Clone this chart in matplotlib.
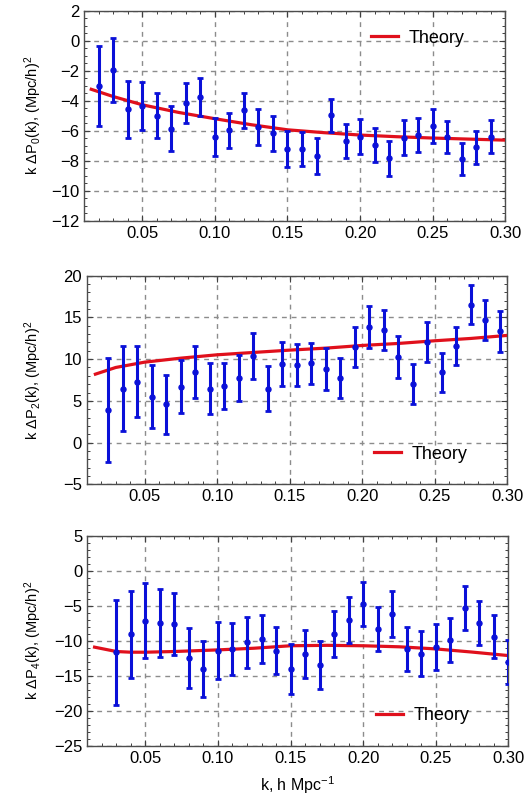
import matplotlib
matplotlib.use('Agg')
from matplotlib import pyplot as plt
from matplotlib.ticker import MultipleLocator
import numpy as np

# Data
k0 = [0.02, 0.03, 0.04, 0.05, 0.06, 0.07, 0.08, 0.09, 0.10, 0.11, 0.12, 0.13, 0.14, 0.15,
      0.16, 0.17, 0.18, 0.19, 0.20, 0.21, 0.22, 0.23, 0.24, 0.25, 0.26, 0.27, 0.28, 0.29]
p0 = [-3.0, -1.96, -4.56, -4.36, -5.0, -5.87, -4.13, -3.73, -6.42, -5.96, -4.64, -5.73, -6.18, -7.24,
      -7.24, -7.69, -4.96, -6.67, -6.4, -6.96, -7.84, -6.47, -6.29, -5.69, -6.44, -7.91, -7.11, -6.4]
e0 = [2.67, 2.16, 1.9, 1.61, 1.49, 1.49, 1.33, 1.26, 1.27, 1.17, 1.17, 1.2, 1.17, 1.19,
      1.13, 1.18, 1.1, 1.13, 1.15, 1.13, 1.16, 1.16, 1.15, 1.11, 1.08, 1.07, 1.09, 1.1]

k2 = [0.025, 0.035, 0.045, 0.055, 0.065, 0.075, 0.085, 0.095, 0.105, 0.115, 0.125, 0.135, 0.145, 0.155,
      0.165, 0.175, 0.185, 0.195, 0.205, 0.215, 0.225, 0.235, 0.245, 0.255, 0.265, 0.275, 0.285, 0.295]
p2 = [3.92, 6.48, 7.32, 5.52, 4.6, 6.72, 8.44, 6.48, 6.8, 7.72, 10.4, 6.48, 9.4, 9.3,
      9.48, 8.8, 7.72, 11.48, 13.8, 13.48, 10.24, 7.0, 12.04, 8.4, 11.6, 16.52, 14.72, 13.32]
e2 = [6.2, 5.1, 4.3, 3.8, 3.52, 3.22, 3.14, 3.0, 2.72, 2.76, 2.74, 2.66, 2.6, 2.5,
      2.5, 2.48, 2.42, 2.42, 2.52, 2.4, 2.48, 2.4, 2.4, 2.34, 2.3, 2.32, 2.38, 2.42]

k4 = [0.03, 0.04, 0.05, 0.06, 0.07, 0.08, 0.09, 0.10, 0.11, 0.12, 0.13, 0.14, 0.15, 0.16,
      0.17, 0.18, 0.19, 0.20, 0.21, 0.22, 0.23, 0.24, 0.25, 0.26, 0.27, 0.28, 0.29, 0.30]
p4 = [-11.62, -9.05, -7.1, -7.48, -7.62, -12.48, -14.0, -11.43, -11.14, -10.19, -9.76, -11.38, -14.0, -11.9,
      -13.43, -9.05, -7.0, -4.71, -8.29, -6.19, -11.19, -11.86, -10.9, -9.86, -5.33, -7.43, -9.38, -13.0]
e4 = [7.5, 6.19, 5.4, 4.84, 4.4, 4.29, 3.98, 4.05, 3.74, 3.62, 3.45, 3.4, 3.6, 3.38,
      3.38, 3.26, 3.27, 3.12, 3.19, 3.24, 3.17, 3.22, 3.29, 3.14, 3.17, 3.1, 3.1, 3.17]

# Theory curves
tk0 = [0.015, 0.03, 0.05, 0.075, 0.10, 0.125, 0.15, 0.175, 0.20, 0.225, 0.25, 0.275, 0.30]
tv0 = [-3.24, -3.72, -4.27, -4.78, -5.2, -5.6, -5.94, -6.13, -6.29, -6.4, -6.49, -6.56, -6.63]
tk2 = [0.016, 0.03, 0.05, 0.075, 0.10, 0.125, 0.15, 0.175, 0.20, 0.225, 0.25, 0.275, 0.30]
tv2 = [8.2, 9.0, 9.64, 10.12, 10.52, 10.8, 11.08, 11.32, 11.64, 11.88, 12.2, 12.48, 12.84]
tk4 = [0.015, 0.03, 0.04, 0.05, 0.07, 0.10, 0.125, 0.15, 0.175, 0.20, 0.225, 0.25, 0.275, 0.30]
tv4 = [-10.9, -11.52, -11.62, -11.62, -11.52, -11.29, -11.05, -10.7, -10.64, -10.7, -10.85, -11.15, -11.6, -12.1]

ylabels = [r'k $\Delta$P$_0$(k), (Mpc/h)$^2$',
           r'k $\Delta$P$_2$(k), (Mpc/h)$^2$',
           r'k $\Delta$P$_4$(k), (Mpc/h)$^2$']

# Style
plt.rcParams.update({
    'font.family': ['Liberation Sans', 'DejaVu Sans'],
    'mathtext.fontset': 'custom',
    'mathtext.rm': 'Liberation Sans',
    'mathtext.it': 'Liberation Sans',
    'font.size': 11,
})
blue = '#0a10d8'
red = '#e0101c'

fig = plt.figure(figsize=(5.32, 8.0), dpi=100)

# axes boxes in pixels: left, right, top, bottom
boxes = [(84, 505.5, 10.7, 220.7),
         (86.7, 507, 275.7, 484.3),
         (87.3, 508.3, 535.7, 746)]
ylims = [(-12, 2), (-5, 20), (-25, 5)]
ymajor = [2, 5, 5]
yminor = [0.5, 1, 1]
legpos = [(0.672, 0.869), (0.675, 0.145), (0.676, 0.144)]

panels = [(k0, p0, e0, tk0, tv0), (k2, p2, e2, tk2, tv2), (k4, p4, e4, tk4, tv4)]

for i, (kk, pp, ee, tk, tv) in enumerate(panels):
    l, r, t, b = boxes[i]
    ax = fig.add_axes([l / 532, 1 - b / 800, (r - l) / 532, (b - t) / 800])
    ax.plot(tk, tv, color=red, lw=2.3, label='Theory', zorder=3)
    ax.errorbar(kk, pp, yerr=ee, fmt='o', color=blue, ms=3.6, elinewidth=2.2,
                capsize=2.5, capthick=2.0, zorder=4)
    ax.set_xlim(0.01, 0.30)
    ax.set_ylim(*ylims[i])
    ax.xaxis.set_major_locator(MultipleLocator(0.05))
    ax.xaxis.set_minor_locator(MultipleLocator(0.01))
    ax.yaxis.set_major_locator(MultipleLocator(ymajor[i]))
    ax.yaxis.set_minor_locator(MultipleLocator(yminor[i]))
    ax.set_xticks([0.05, 0.10, 0.15, 0.20, 0.25, 0.30])
    ax.set_xticklabels(['0.05', '0.10', '0.15', '0.20', '0.25', '0.30'])
    ax.tick_params(which='both', direction='in', top=True, right=True, colors='0.25',
                   labelcolor='black', labelsize=12)
    ax.tick_params(which='major', length=4, width=0.8)
    ax.tick_params(which='minor', length=2.5, width=0.7)
    for spine in ax.spines.values():
        spine.set_color('0.3')
        spine.set_linewidth(1.0)
    ax.grid(which='major', color='0.55', linestyle=(0, (3.5, 3.5)), linewidth=1.0)
    ax.set_axisbelow(True)
    fig.text(33 / 532, 1 - (t + b) / 2 / 800, ylabels[i], rotation=90,
             ha='center', va='center', fontsize=10.5)
    leg = ax.legend(loc='center left', bbox_to_anchor=legpos[i], frameon=False,
                    fontsize=13, handlelength=1.5, handletextpad=0.6,
                    borderaxespad=0, borderpad=0.2)
    if i == 2:
        ax.set_xlabel(r'k, h Mpc$^{-1}$', fontsize=11.5, labelpad=6)

fig.savefig('out.png', dpi=100)
